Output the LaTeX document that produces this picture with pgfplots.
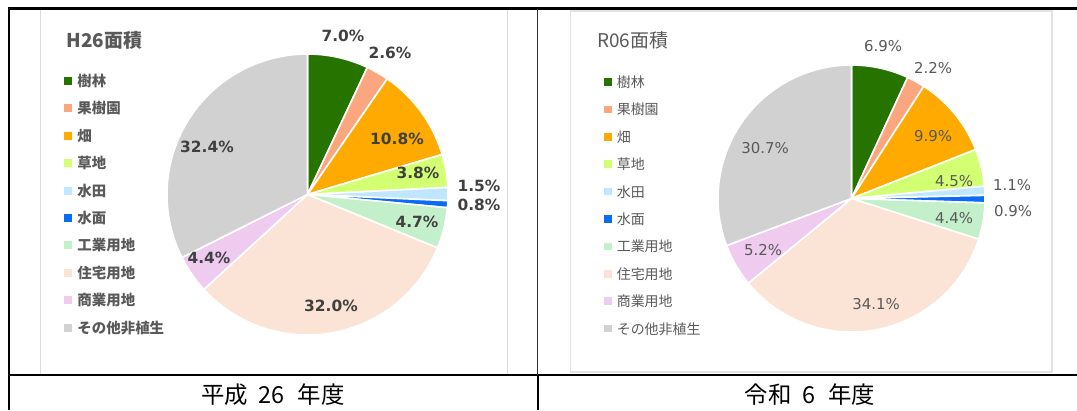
\documentclass[border=0pt]{standalone}
\usepackage{pgfplots}
\pgfplotsset{compat=1.18}
\usepackage{pgfplotstable}
\usepackage{fontspec}
\setmainfont{DejaVu Sans}
\newfontfamily\jp{Noto Sans CJK JP}

\definecolor{cJurin}{HTML}{267300}
\definecolor{cKaju}{HTML}{FCA680}
\definecolor{cHata}{HTML}{FFAA00}
\definecolor{cSouchi}{HTML}{D3FF72}
\definecolor{cSuiden}{HTML}{BFE7FF}
\definecolor{cSuimen}{HTML}{0A6CF5}
\definecolor{cKogyo}{HTML}{C3F0CA}
\definecolor{cJutaku}{HTML}{FBE3D6}
\definecolor{cShogyo}{HTML}{EFCCEF}
\definecolor{cOther}{HTML}{D1D1D1}
\definecolor{tdark}{HTML}{404040}
\definecolor{tgray}{HTML}{595959}
\definecolor{framegray}{HTML}{D9D9D9}
\definecolor{framegrayR}{HTML}{E3E3E3}

% H26 (平成26年度) area shares, percent
\pgfplotstableread{
val col
7.0 cJurin
2.6 cKaju
10.8 cHata
3.8 cSouchi
1.5 cSuiden
0.8 cSuimen
4.7 cKogyo
32.0 cJutaku
4.4 cShogyo
32.4 cOther
}\dataH

% R06 (令和6年度) area shares, percent
\pgfplotstableread{
val col
6.9 cJurin
2.2 cKaju
9.9 cHata
4.5 cSouchi
1.1 cSuiden
0.9 cSuimen
4.4 cKogyo
34.1 cJutaku
5.2 cShogyo
30.7 cOther
}\dataR

% pie slices from a table: #1 table, #2 cx, #3 cy, #4 radius (bp)
\newcommand\drawpie[4]{%
  \pgfplotstablegetrowsof{#1}%
  \pgfmathtruncatemacro\pienrows{\pgfplotsretval-1}%
  \def\pietotal{0}%
  \pgfplotsforeachungrouped \i in {0,...,\pienrows}{%
    \pgfplotstablegetelem{\i}{val}\of{#1}%
    \pgfmathsetmacro\pietotal{\pietotal+\pgfplotsretval}%
  }%
  \def\piecum{90}%
  \pgfplotsforeachungrouped \i in {0,...,\pienrows}{%
    \pgfplotstablegetelem{\i}{val}\of{#1}\let\pieval\pgfplotsretval
    \pgfplotstablegetelem{\i}{col}\of{#1}\let\piecol\pgfplotsretval
    \pgfmathsetmacro\pieend{\piecum-360*\pieval/\pietotal}%
    \edef\pietemp{\noexpand\fill[fill=\piecol, draw=white, line width=1.6bp, line join=round] (axis cs:#2,#3) -- ++(\piecum:#4bp) arc[start angle=\piecum, end angle=\pieend, radius=#4bp] -- cycle;}%
    \pietemp
    \let\piecum\pieend
  }%
}

\pgfplotsset{
  sheet/.style={hide axis, scale only axis, width=1077bp, height=410bp,
    xmin=0, xmax=1077, ymin=-410, ymax=0, clip=false, at={(0,0)}, anchor=south west,
    legend cell align=left},
  sqlegendL/.style={legend image code/.code={\fill[##1, draw=none] (0bp,-4bp) rectangle (8bp,4bp); \path[draw=none, fill=none] (0bp,0bp) -- (13.5bp,0bp);}},
  sqlegendR/.style={legend image code/.code={\fill[##1, draw=none] (0bp,-3.8bp) rectangle (7.6bp,3.8bp); \path[draw=none, fill=none] (0bp,0bp) -- (12.8bp,0bp);}},
}

\begin{document}
\begin{tikzpicture}
% ---------------- left chart (H26) ----------------
\begin{axis}[sheet, sqlegendL,
  legend style={at={(0.05942,0.81585)}, anchor=north west, draw=none, fill=none,
    inner sep=0pt, outer sep=0pt, row sep=16.4bp, column sep=0pt,
    font=\jp\bfseries\fontsize{14.5}{16}\selectfont, text=tgray,
    nodes={inner sep=0pt, outer sep=0pt, text height=11bp, text depth=0bp}}]
  \coordinate (BL) at (axis cs:0,-410);
  \coordinate (TR) at (axis cs:1077,0);
  % inner chart frames
  \draw[framegray, line width=1.2bp] (axis cs:40.5,-9.5) rectangle (axis cs:507.5,-374.3);
  \draw[framegrayR, line width=1.2bp] (axis cs:570.5,-11) rectangle (axis cs:1052,-372);
  % pie
  \drawpie{\dataH}{307.5}{-194.5}{140.5}
  % title
  \node[anchor=base west, inner sep=0pt, text=tgray, font=\jp\bfseries\fontsize{19}{21}\selectfont] at (axis cs:66.5,-47.3) {H26面積};
  % labels
  \begin{scope}[every node/.style={text=tdark, font=\bfseries\fontsize{15.5}{17}\selectfont, inner sep=0pt}]
    \node at (axis cs:343,-36) {7.0\%};
    \node at (axis cs:390,-53) {2.6\%};
    \node at (axis cs:397,-139) {10.8\%};
    \node at (axis cs:418,-173) {3.8\%};
    \node at (axis cs:479,-186) {1.5\%};
    \node at (axis cs:479,-205) {0.8\%};
    \node at (axis cs:417,-222) {4.7\%};
    \node at (axis cs:331,-306) {32.0\%};
    \node at (axis cs:209,-258) {4.4\%};
    \node at (axis cs:207,-147) {32.4\%};
  \end{scope}
  \addlegendimage{fill=cJurin}\addlegendentry{樹林}
  \addlegendimage{fill=cKaju}\addlegendentry{果樹園}
  \addlegendimage{fill=cHata}\addlegendentry{畑}
  \addlegendimage{fill=cSouchi}\addlegendentry{草地}
  \addlegendimage{fill=cSuiden}\addlegendentry{水田}
  \addlegendimage{fill=cSuimen}\addlegendentry{水面}
  \addlegendimage{fill=cKogyo}\addlegendentry{工業用地}
  \addlegendimage{fill=cJutaku}\addlegendentry{住宅用地}
  \addlegendimage{fill=cShogyo}\addlegendentry{商業用地}
  \addlegendimage{fill=cOther}\addlegendentry{その他非植生}
  % table lines
  \draw[black, line width=2.7bp] (axis cs:8,-8.7) -- (axis cs:1077,-8.7);
  \draw[black, line width=2bp] (axis cs:9,-7.4) -- (axis cs:9,-410);
  \draw[black, line width=2.2bp] (axis cs:8,-375.3) -- (axis cs:1077,-375.3);
  \draw[black!80, line width=1.3bp] (axis cs:537.7,-8.7) -- (axis cs:537.7,-375.3);
  \draw[black, line width=2.5bp] (axis cs:538,-375.3) -- (axis cs:538,-410);
  % captions
  \node[anchor=base, inner sep=0pt, text=black, font=\jp\fontsize{23.5}{26}\selectfont] at (axis cs:273,-403) {平成\hspace{0.45em}26\hspace{0.55em}年度};
  \node[anchor=base, inner sep=0pt, text=black, font=\jp\fontsize{23.5}{26}\selectfont] at (axis cs:810,-403) {令和\hspace{0.45em}6\hspace{0.55em}年度};
\end{axis}
% ---------------- right chart (R06) ----------------
\begin{axis}[sheet, sqlegendR,
  legend style={at={(0.56082,0.81341)}, anchor=north west, draw=none, fill=none,
    inner sep=0pt, outer sep=0pt, row sep=16.4bp, column sep=0pt,
    font=\jp\fontsize{14}{16}\selectfont, text=tgray,
    nodes={inner sep=0pt, outer sep=0pt, text height=11bp, text depth=0bp}}]
  \drawpie{\dataR}{851.5}{-198.5}{133.5}
  \node[anchor=base west, inner sep=0pt, text=tgray, font=\jp\fontsize{19}{21}\selectfont] at (axis cs:597,-47.3) {R06面積};
  \begin{scope}[every node/.style={text=tgray, font=\fontsize{15}{17}\selectfont, inner sep=0pt}]
    \node at (axis cs:883,-46) {6.9\%};
    \node at (axis cs:933,-68) {2.2\%};
    \node at (axis cs:933,-136) {9.9\%};
    \node at (axis cs:954,-181) {4.5\%};
    \node at (axis cs:1012,-185) {1.1\%};
    \node at (axis cs:1013,-211) {0.9\%};
    \node at (axis cs:954,-218) {4.4\%};
    \node at (axis cs:876,-304) {34.1\%};
    \node at (axis cs:763,-250) {5.2\%};
    \node at (axis cs:765,-148) {30.7\%};
  \end{scope}
  \addlegendimage{fill=cJurin}\addlegendentry{樹林}
  \addlegendimage{fill=cKaju}\addlegendentry{果樹園}
  \addlegendimage{fill=cHata}\addlegendentry{畑}
  \addlegendimage{fill=cSouchi}\addlegendentry{草地}
  \addlegendimage{fill=cSuiden}\addlegendentry{水田}
  \addlegendimage{fill=cSuimen}\addlegendentry{水面}
  \addlegendimage{fill=cKogyo}\addlegendentry{工業用地}
  \addlegendimage{fill=cJutaku}\addlegendentry{住宅用地}
  \addlegendimage{fill=cShogyo}\addlegendentry{商業用地}
  \addlegendimage{fill=cOther}\addlegendentry{その他非植生}
\end{axis}
\pgfresetboundingbox
\path (BL) rectangle (TR);
\end{tikzpicture}
\end{document}
